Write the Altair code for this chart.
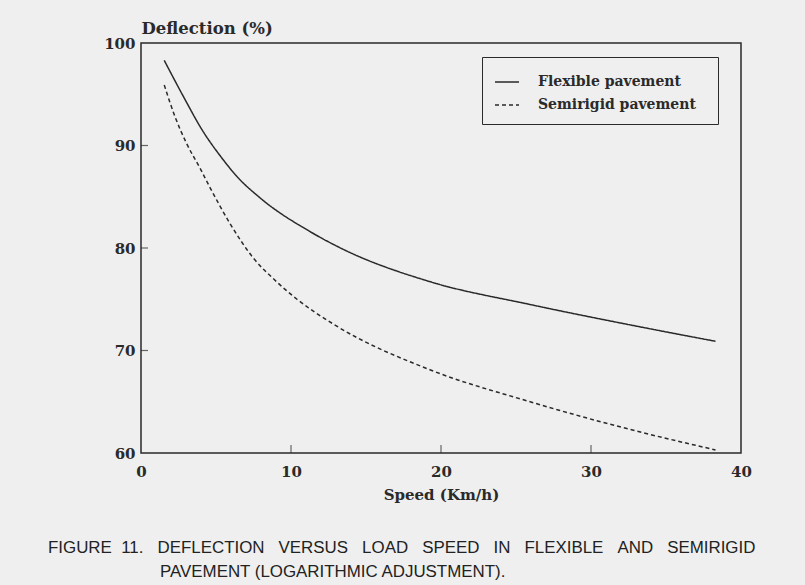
import altair as alt
import pandas as pd

# ---- data ----
series_names = ["Flexible pavement", "Semirigid pavement"]
flex_speed = [1.55, 2.93, 4.04, 5.38, 6.38, 7.93, 11.27, 13.3, 19.3, 25.9, 32.6, 38.3]
flex_defl = [98.3, 94.5, 91.6, 88.8, 87.0, 84.9, 81.6, 80.0, 76.7, 74.5, 72.5, 70.9]
semi_speed = [1.55, 2.27, 3.04, 3.93, 4.6, 5.93, 7.5, 8.9, 10.4, 12.8, 19.3, 25.7, 32.6, 38.3]
semi_defl = [95.9, 92.8, 90.2, 87.8, 85.9, 82.4, 79.0, 76.9, 75.0, 72.6, 68.1, 65.1, 62.3, 60.3]
x_ticks = [0, 10, 20, 30, 40]
y_ticks = [60, 70, 80, 90, 100]
inner_x_ticks = [10, 20, 30]
inner_y_ticks = [70, 80, 90]
N2 = "\u00a0\u00a0"
N3 = "\u00a0\u00a0\u00a0"
caption_1 = ("FIGURE" + N2 + "11." + N3 + "DEFLECTION" + N3 + "VERSUS" + N3 + "LOAD" + N3
             + "SPEED" + N3 + "IN" + N3 + "FLEXIBLE" + N3 + "AND" + N3 + "SEMIRIGID")
caption_2 = "PAVEMENT (LOGARITHMIC ADJUSTMENT)."

df = pd.concat([
    pd.DataFrame({"speed": flex_speed, "defl": flex_defl, "series": series_names[0]}),
    pd.DataFrame({"speed": semi_speed, "defl": semi_defl, "series": series_names[1]}),
])

W, H = 600, 410
INK = "#2a2a2a"
BG = "#efefef"
SERIF = "DejaVu Serif"

xs = alt.Scale(domain=[0, 40], nice=False)
ys = alt.Scale(domain=[60, 100], nice=False)

lines = alt.Chart(df).mark_line(interpolate="monotone", strokeWidth=1.5, color=INK).encode(
    x=alt.X("speed:Q", scale=xs,
            axis=alt.Axis(values=x_ticks, title="Speed (Km/h)", ticks=False, grid=False,
                          labelFlush=False, labelPadding=11, titlePadding=8)),
    y=alt.Y("defl:Q", scale=ys,
            axis=alt.Axis(values=y_ticks, title="Deflection (%)", ticks=False, grid=False,
                          labelFlush=False, labelPadding=6, titleAngle=0, titleAlign="left",
                          titleBaseline="alphabetic", titleX=0, titleY=-10,
                          titleFontSize=16.5)),
    strokeDash=alt.StrokeDash(
        "series:N",
        scale=alt.Scale(domain=series_names, range=[[1, 0], [4, 3]]),
        legend=alt.Legend(title=".", titleOrient="right", titleColor=BG, titleFontSize=4,
                          titlePadding=8,
                          orient="none", legendX=341, legendY=14,
                          strokeColor=INK, padding=12, symbolType="stroke",
                          symbolSize=576, symbolStrokeWidth=1.3, symbolStrokeColor=INK,
                          rowPadding=3, labelOffset=18,
                          labelFont=SERIF, labelFontWeight="bold", labelFontSize=14,
                          labelColor=INK, fillColor=BG),
    ),
)

xt = alt.Chart(pd.DataFrame({"v": inner_x_ticks})).mark_tick(
    orient="vertical", color=INK, thickness=1.2, size=8
).encode(x=alt.X("v:Q", scale=xs), y=alt.value(H - 4))

yt = alt.Chart(pd.DataFrame({"v": inner_y_ticks})).mark_tick(
    orient="horizontal", color=INK, thickness=1.2, size=7
).encode(y=alt.Y("v:Q", scale=ys), x=alt.value(3.5))

cap_font = "Liberation Sans"
cap1 = alt.Chart(pd.DataFrame({"t": [caption_1]})).mark_text(
    align="left", baseline="middle", font=cap_font, fontSize=16.9, color="#222"
).encode(text="t:N", x=alt.value(-93), y=alt.value(505))
cap2 = alt.Chart(pd.DataFrame({"t": [caption_2]})).mark_text(
    align="left", baseline="middle", font=cap_font, fontSize=16.9, color="#222"
).encode(text="t:N", x=alt.value(19), y=alt.value(529))

chart = alt.layer(lines, xt, yt, cap1, cap2).properties(
    width=W, height=H,
    autosize=alt.AutoSizeParams(type="none"),
    padding={"left": 141, "top": 43, "right": 64, "bottom": 132},
    background=BG,
).configure_view(
    stroke=INK, strokeWidth=1.5, fill=None
).configure_axis(
    domain=False,
    labelFont=SERIF, labelFontWeight="bold", labelFontSize=15, labelColor=INK,
    titleFont=SERIF, titleFontWeight="bold", titleFontSize=15, titleColor=INK,
)

chart.save("out.html", embed_options={"renderer": "svg", "actions": False})
